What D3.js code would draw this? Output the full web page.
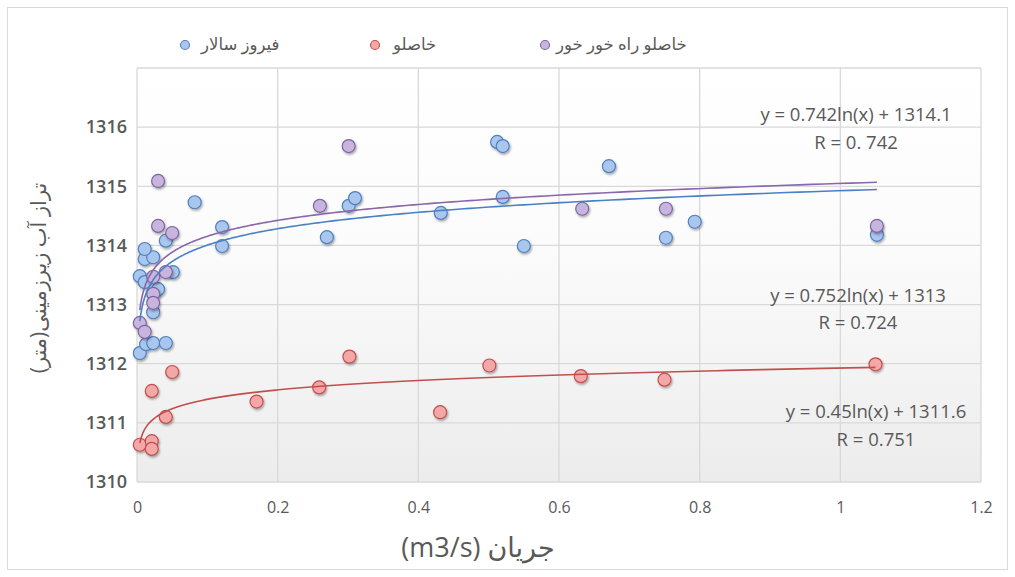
<!DOCTYPE html>
<html>
<head>
<meta charset="utf-8">
<script src="https://cdn.jsdelivr.net/npm/d3@7"></script>
<style>
  html, body { margin: 0; padding: 0; background: #ffffff; }
  svg { display: block; }
</style>
</head>
<body>
<svg id="chart" width="1015" height="577"></svg>
<script>
// Discharge (m3/s) and groundwater level (m) per station group
const firuzX = [0.004, 0.013, 0.023, 0.041, 0.023, 0.030, 0.004, 0.011, 0.051, 0.011, 0.023, 0.011, 0.041, 0.121,
                0.121, 0.082, 0.270, 0.301, 0.310, 0.432, 0.512, 0.520, 0.520, 0.550, 0.671, 0.752, 0.793, 1.052];
const firuzY = [1312.18, 1312.33, 1312.35, 1312.35, 1312.87, 1313.26, 1313.48, 1313.38, 1313.55, 1313.77, 1313.80, 1313.94, 1314.08, 1313.99,
                1314.31, 1314.73, 1314.14, 1314.67, 1314.80, 1314.55, 1315.75, 1315.68, 1314.82, 1313.99, 1315.34, 1314.13, 1314.40, 1314.18];

const khasluX = [0.004, 0.021, 0.021, 0.021, 0.041, 0.050, 0.170, 0.259, 0.302, 0.431, 0.501, 0.631, 0.750, 1.050];
const khasluY = [1310.63, 1311.54, 1310.69, 1310.56, 1311.10, 1311.86, 1311.36, 1311.60, 1312.12, 1311.18, 1311.97, 1311.79, 1311.73, 1311.99];

const khorX = [0.030, 0.030, 0.050, 0.023, 0.041, 0.023, 0.023, 0.004, 0.011, 0.301, 0.260, 0.633, 0.752, 1.052];
const khorY = [1315.09, 1314.33, 1314.21, 1313.47, 1313.55, 1313.18, 1313.03, 1312.69, 1312.54, 1315.68, 1314.67, 1314.62, 1314.62, 1314.33];

const seriesNames = ["فیروز سالار", "خاصلو", "خاصلو راه خور خور"];

const xTicks = [0, 0.2, 0.4, 0.6, 0.8, 1, 1.2];
const yTicks = [1310, 1311, 1312, 1313, 1314, 1315, 1316];
const yGrid = [1310, 1311, 1312, 1313, 1314, 1315, 1316, 1317];

// Trendline captions as printed on the chart
const eqLabels = ["y = 0.742ln(x) + 1314.1", "y = 0.752ln(x) + 1313", "y = 0.45ln(x) + 1311.6"];
const rLabels = ["R = 0. 742", "R = 0.724", "R = 0.751"];

const xTitle = "جریان (m3/s)";
const yTitle = "تراز آب زیرزمینی(متر)";

const series = [
  { name: seriesNames[0], xs: firuzX, ys: firuzY, fill: "#a8c6ee", stroke: "#4f81bd", line: "#4a80c6" },
  { name: seriesNames[1], xs: khasluX, ys: khasluY, fill: "#f3a7a6", stroke: "#c0504d", line: "#c0504d" },
  { name: seriesNames[2], xs: khorX, ys: khorY, fill: "#c8b5de", stroke: "#8064a2", line: "#8a66aa" }
];

const svg = d3.select("#chart");
const plot = { left: 137, right: 981, top: 68, bottom: 482 };

const x = d3.scaleLinear().domain([0, 1.2]).range([plot.left, plot.right]);
const y = d3.scaleLinear().domain([1310, 1317]).range([plot.bottom, plot.top]);

const defs = svg.append("defs");
const grad = defs.append("linearGradient").attr("id", "plotBg")
  .attr("x1", 0).attr("y1", 0).attr("x2", 0).attr("y2", 1);
grad.append("stop").attr("offset", "0%").attr("stop-color", "#ffffff");
grad.append("stop").attr("offset", "45%").attr("stop-color", "#fbfbfb");
grad.append("stop").attr("offset", "100%").attr("stop-color", "#ececec");

const shadow = defs.append("filter").attr("id", "dropShadow")
  .attr("x", "-50%").attr("y", "-50%").attr("width", "200%").attr("height", "200%");
shadow.append("feDropShadow").attr("dx", 1).attr("dy", 1.6).attr("stdDeviation", 1.2)
  .attr("flood-color", "#000").attr("flood-opacity", 0.35);

// Outer chart frame
svg.append("rect").attr("x", 7.5).attr("y", 7.5).attr("width", 1000).attr("height", 562)
  .attr("fill", "#ffffff").attr("stroke", "#d9d9d9").attr("stroke-width", 1);

// Plot area background
svg.append("rect")
  .attr("x", plot.left).attr("y", plot.top)
  .attr("width", plot.right - plot.left).attr("height", plot.bottom - plot.top)
  .attr("fill", "url(#plotBg)");

// Gridlines
const grid = svg.append("g").attr("stroke", "#d9d9d9").attr("stroke-width", 1.3);
grid.selectAll("line.h").data(yGrid).join("line")
  .attr("x1", plot.left).attr("x2", plot.right)
  .attr("y1", d => y(d)).attr("y2", d => y(d));
grid.selectAll("line.v").data(xTicks).join("line")
  .attr("x1", d => x(d)).attr("x2", d => x(d))
  .attr("y1", plot.top).attr("y2", plot.bottom);

// Axes
const fontFam = "'Open Sans', 'Noto Sans', 'DejaVu Sans', sans-serif";
const xAxis = svg.append("g").attr("transform", `translate(0,${plot.bottom})`)
  .call(d3.axisBottom(x).tickValues(xTicks).tickSize(0).tickPadding(20).tickFormat(d3.format("")));
const yAxis = svg.append("g").attr("transform", `translate(${plot.left},0)`)
  .call(d3.axisLeft(y).tickValues(yTicks).tickSize(0).tickPadding(10).tickFormat(d3.format("d")));
[xAxis, yAxis].forEach(a => {
  a.select(".domain").remove();
  a.selectAll("text").attr("fill", "#595959").attr("font-family", fontFam);
});
xAxis.selectAll("text").attr("font-size", 16);
yAxis.selectAll("text").attr("font-size", 18).attr("font-weight", 600);

// Scatter markers
series.forEach(s => {
  svg.append("g").attr("filter", "url(#dropShadow)")
    .selectAll("circle").data(d3.zip(s.xs, s.ys)).join("circle")
    .attr("cx", d => x(d[0])).attr("cy", d => y(d[1])).attr("r", 6.5)
    .attr("fill", s.fill).attr("stroke", s.stroke).attr("stroke-width", 1.2);
});

// Logarithmic least-squares trendlines
function logFit(xs, ys) {
  const lx = xs.map(Math.log);
  const mx = d3.mean(lx), my = d3.mean(ys);
  let sxy = 0, sxx = 0;
  lx.forEach((v, i) => { sxy += (v - mx) * (ys[i] - my); sxx += (v - mx) * (v - mx); });
  const a = sxy / sxx;
  return { a, b: my - a * mx };
}
series.forEach(s => {
  const f = logFit(s.xs, s.ys);
  const [lo, hi] = d3.extent(s.xs);
  const pts = d3.range(0, 301).map(i => {
    const xv = lo * Math.pow(hi / lo, i / 300);
    return [xv, f.a * Math.log(xv) + f.b];
  });
  svg.append("path").datum(pts)
    .attr("d", d3.line().x(d => x(d[0])).y(d => y(d[1])))
    .attr("fill", "none").attr("stroke", s.line).attr("stroke-width", 1.6);
});

// Trendline captions
const capPos = [[856, 121, 149], [858, 302, 329], [876, 418, 446]];
capPos.forEach((p, i) => {
  svg.append("text").attr("x", p[0]).attr("y", p[1]).attr("text-anchor", "middle")
    .attr("font-family", fontFam).attr("font-size", 18.5).attr("fill", "#595959").text(eqLabels[i]);
  svg.append("text").attr("x", p[0]).attr("y", p[2]).attr("text-anchor", "middle")
    .attr("font-family", fontFam).attr("font-size", 18.5).attr("fill", "#595959").text(rLabels[i]);
});

// Legend
const legendPos = [[185, 201], [375, 393], [545, 556]];
series.forEach((s, i) => {
  svg.append("circle").attr("cx", legendPos[i][0]).attr("cy", 45).attr("r", 4.5)
    .attr("fill", s.fill).attr("stroke", s.stroke).attr("stroke-width", 1.1);
  svg.append("text").attr("x", legendPos[i][1]).attr("y", 50).attr("text-anchor", "start")
    .attr("font-family", fontFam).attr("font-size", 16.5).attr("fill", "#595959").text(s.name);
});

// Axis titles
svg.append("text").attr("x", 478).attr("y", 557).attr("text-anchor", "middle")
  .attr("direction", "rtl").attr("font-family", fontFam).attr("font-size", 27)
  .attr("fill", "#595959").text(xTitle);
svg.append("text").attr("transform", "translate(46,278) rotate(-90)").attr("text-anchor", "middle")
  .attr("direction", "rtl").attr("font-family", fontFam).attr("font-size", 21)
  .attr("fill", "#595959").text(yTitle);
</script>
</body>
</html>
